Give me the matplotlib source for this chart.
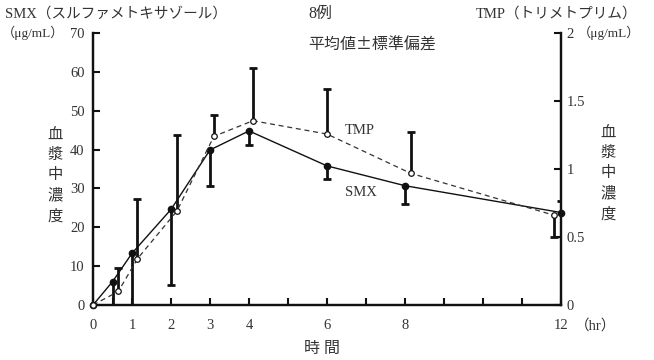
import matplotlib
matplotlib.use('Agg')
import numpy as np
import matplotlib.pyplot as plt

plt.rcParams['font.family'] = ['Liberation Serif', 'Noto Sans CJK JP', 'DejaVu Sans']

# ---------------------------------------------------------------------------
# data
# ---------------------------------------------------------------------------
smx_t    = [0, 0.5, 1, 2, 3, 4, 6, 8, 12]
smx_mean = [0, 6.0, 13.3, 24.6, 39.9, 44.8, 35.8, 30.7, 23.8]
smx_lo   = [0, 6.0, 13.3, 19.5, 9.3, 3.5, 3.5, 4.8, 0]
smx_hi   = [0, 0, 0, 0, 0, 0, 0, 0, 3.0]

tmp_t    = [0, 0.65, 1.14, 2.15, 3.1, 4.1, 6.0, 8.15, 11.82]
tmp_mean = [0, 0.10, 0.34, 0.69, 1.24, 1.355, 1.257, 0.968, 0.66]
tmp_lo   = [0, 0, 0, 0, 0, 0, 0, 0, 0.16]
tmp_hi   = [0, 0.175, 0.44, 0.56, 0.16, 0.39, 0.33, 0.306, 0]

x_ticks      = [0, 0.5, 1, 2, 3, 4, 5, 6, 7, 8, 9, 10, 11, 12]
x_ticklabels = ['0', '', '1', '2', '3', '4', '', '6', '', '8', '', '', '', '12']
left_ticks   = [0, 10, 20, 30, 40, 50, 60, 70]
right_ticks  = [0, 0.5, 1, 1.5, 2]
right_labels = ['0', '0.5', '1', '1.5', '2']

W, H = 654, 360
fig = plt.figure(figsize=(W / 100, H / 100), dpi=100)
ax = fig.add_axes([93 / W, 1 - 305 / H, 468 / W, 272 / H])
ax2 = ax.twinx()

LW_SP = 1.6
CJK = ['Noto Sans CJK JP', 'Liberation Serif']


def draw_bars(a, t, mean, lo, hi):
    t = np.asarray(t); mean = np.asarray(mean)
    lo = np.asarray(lo); hi = np.asarray(hi)
    for err, sign in ((lo, -1), (hi, 1)):
        m = err > 0
        ends = mean[m] + sign * err[m]
        a.vlines(t[m], mean[m], ends, color='#111111', lw=2.0, zorder=3)
        a.plot(t[m], ends, ls='none', marker='_', ms=5.5, mew=2.0,
               color='#111111', zorder=3)


# SMX on left axis
draw_bars(ax, smx_t, smx_mean, smx_lo, smx_hi)
ax.plot(smx_t, smx_mean, color='#111111', lw=1.0, marker='o', ms=4.5,
        mfc='#111111', mec='#111111', zorder=4, clip_on=False)

# TMP on right axis
draw_bars(ax2, tmp_t, tmp_mean, tmp_lo, tmp_hi)
ax2.plot(tmp_t, tmp_mean, color='#333333', lw=0.9, ls=(0, (4, 3)),
         marker='o', ms=4.0, mfc='white', mec='#111111', mew=0.9,
         zorder=4, clip_on=False)

ax.set_xlim(0, 12)
ax.set_ylim(0, 70)
ax2.set_ylim(0, 2)

ax.set_xticks(x_ticks)
ax.set_xticklabels(x_ticklabels)
ax.set_yticks(left_ticks)
ax2.set_yticks(right_ticks)
ax2.set_yticklabels(right_labels)

for a in (ax, ax2):
    a.spines['top'].set_visible(False)
    for s in ('left', 'right', 'bottom'):
        a.spines[s].set_linewidth(LW_SP)
        a.spines[s].set_color('#111111')
    a.tick_params(direction='in', length=5, width=1.5, colors='#111111',
                  labelsize=10.5, labelcolor='#333333')
ax.tick_params(axis='x', pad=10)
ax.tick_params(axis='y', pad=6)
ax2.tick_params(axis='y', pad=4)
ax.patch.set_visible(False)


def ftext(x, y, s, **kw):
    kw.setdefault('fontsize', 10.5)
    kw.setdefault('color', '#333333')
    kw.setdefault('va', 'center')
    fig.text(x / W, 1 - y / H, s, **kw)


ftext(5, 14, 'SMX（スルファメトキサゾール）', ha='left')
ftext(2, 33, '（μg/mL）', ha='left', fontsize=9.5)
ftext(308, 14, '8例', ha='left', fontsize=11.5)
ftext(308, 45, '平均値±標準偏差', ha='left', fontsize=11.5, family=CJK)
ftext(637, 14, 'TMP（トリメトプリム）', ha='right')
ftext(578, 33, '（μg/mL）', ha='left', fontsize=9.5)
ftext(55, 176, '血\n漿\n中\n濃\n度', ha='center', fontsize=11, linespacing=1.55)
ftext(608, 174, '血\n漿\n中\n濃\n度', ha='center', fontsize=11, linespacing=1.55)
ftext(322, 349, '時 間', ha='center', fontsize=11.5)
ftext(575, 326, '（hr）', ha='left')
ftext(345, 131, 'TMP', ha='left')
ftext(345, 193, 'SMX', ha='left')

fig.savefig('out.png', dpi=100)
